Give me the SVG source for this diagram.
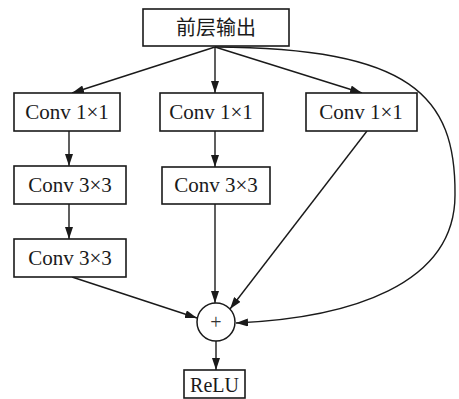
<svg xmlns="http://www.w3.org/2000/svg" width="459" height="399" viewBox="0 0 459 399">
<defs>
<marker id="ah" viewBox="0 0 12 8" refX="12" refY="4" markerWidth="12" markerHeight="8" markerUnits="userSpaceOnUse" orient="auto">
<path d="M0,0 L12,4 L0,8 Z" fill="#1a1a1a"/>
</marker>
</defs>
<style>
.box{fill:#fff;stroke:#1a1a1a;stroke-width:1.6}
.t{font-family:"Liberation Serif","Times New Roman",serif;font-size:21px;fill:#1a1a1a;text-anchor:middle}
.c{font-family:"Noto Sans CJK SC","Noto Sans",sans-serif;font-size:20px;fill:#1a1a1a;text-anchor:middle}
.ln{fill:none;stroke:#1a1a1a;stroke-width:1.4;marker-end:url(#ah)}
</style>
<rect width="459" height="399" fill="#fff"/>
<g id="connectors">
<path class="ln" d="M215,47 L72,93"/>
<path class="ln" d="M215,47 L215,93"/>
<path class="ln" d="M215,47 L362,93"/>
<path class="ln" d="M215,47 C410,48 456,95 455,195 C455,285 350,318 236,323"/>
<path class="ln" d="M69,131 L69,166"/>
<path class="ln" d="M215,131 L215,167"/>
<path class="ln" d="M69,204 L69,239"/>
<path class="ln" d="M215,204 L215,303"/>
<path class="ln" d="M367,131 L230,309"/>
<path class="ln" d="M72,277 L197,318"/>
<path class="ln" d="M216,341 L216,370"/>
</g>
<g id="top"><rect class="box" x="143" y="9" width="146" height="37"/><text class="c" x="216" y="35">前层输出</text></g>
<g id="a1"><rect class="box" x="14" y="93" width="106" height="38"/><text class="t" x="67" y="119">Conv 1×1</text></g>
<g id="b1"><rect class="box" x="160" y="93" width="103" height="38"/><text class="t" x="211" y="119">Conv 1×1</text></g>
<g id="c1"><rect class="box" x="306" y="93" width="111" height="38"/><text class="t" x="361" y="119">Conv 1×1</text></g>
<g id="a2"><rect class="box" x="14" y="166" width="112" height="38"/><text class="t" x="70" y="192">Conv 3×3</text></g>
<g id="b2"><rect class="box" x="162" y="167" width="108" height="37"/><text class="t" x="216" y="192">Conv 3×3</text></g>
<g id="a3"><rect class="box" x="14" y="239" width="112" height="38"/><text class="t" x="70" y="265">Conv 3×3</text></g>
<g id="sum"><circle cx="216" cy="322" r="19" fill="#fff" stroke="#1a1a1a" stroke-width="1.5"/><text x="216" y="329" text-anchor="middle" style="font-family:'Liberation Serif',serif;font-size:20px;fill:#333">+</text></g>
<g id="relu"><rect class="box" x="184" y="370" width="61" height="28"/><text class="t" x="214.5" y="392" style="font-size:20px">ReLU</text></g>
</svg>
